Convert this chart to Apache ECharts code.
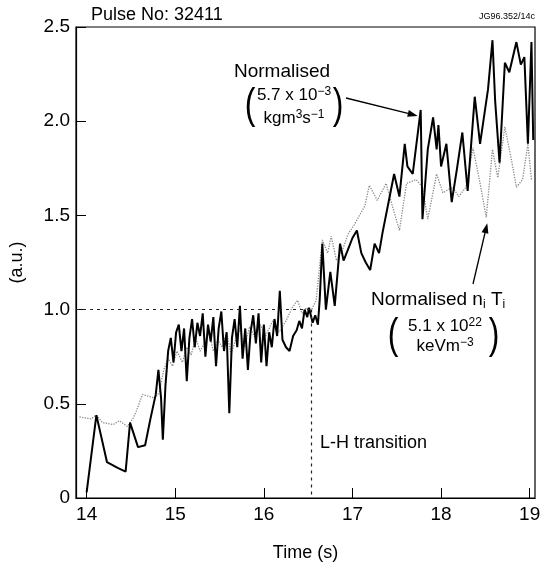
<!DOCTYPE html>
<html>
<head>
<meta charset="utf-8">
<script src="https://cdn.jsdelivr.net/npm/echarts@6/dist/echarts.min.js"></script>
<style>html,body{margin:0;padding:0;background:#fff;}#c{width:545px;height:568px;}</style>
</head>
<body>
<div id="c"></div>
<script>
// ---- data ----
const solidTime = [14.00,14.11,14.23,14.35,14.44,14.49,14.58,14.66,14.72,14.78,14.81,14.84,14.86,14.89,14.92,14.95,14.98,15.01,15.04,15.07,15.10,15.13,15.16,15.19,15.22,15.25,15.28,15.31,15.34,15.37,15.40,15.43,15.46,15.49,15.52,15.55,15.58,15.61,15.64,15.67,15.70,15.73,15.76,15.79,15.82,15.85,15.88,15.91,15.94,15.97,16.00,16.03,16.06,16.09,16.12,16.15,16.18,16.21,16.25,16.29,16.33,16.37,16.40,16.43,16.46,16.49,16.51,16.55,16.58,16.61,16.63,16.66,16.70,16.75,16.80,16.86,16.90,16.95,17.00,17.05,17.10,17.15,17.20,17.25,17.30,17.34,17.42,17.47,17.53,17.59,17.62,17.68,17.77,17.79,17.85,17.91,17.95,17.97,18.00,18.06,18.12,18.18,18.24,18.30,18.38,18.44,18.53,18.58,18.61,18.66,18.72,18.77,18.85,18.90,18.94,18.98,19.02,19.04];
const solidValue = [0.03,0.44,0.19,0.16,0.14,0.40,0.27,0.28,0.42,0.55,0.68,0.53,0.31,0.60,0.78,0.85,0.72,0.88,0.92,0.78,0.90,0.62,0.85,0.95,0.80,0.93,0.86,0.98,0.75,0.92,0.83,0.96,0.70,0.90,0.99,0.78,0.88,0.45,0.85,0.95,0.80,1.02,0.74,0.90,0.68,0.88,0.97,0.82,0.98,0.72,0.92,0.70,0.88,0.80,0.95,0.86,1.10,0.84,0.80,0.78,0.86,0.89,0.94,0.90,1.00,0.96,1.01,0.93,0.97,0.92,1.05,1.35,1.00,1.20,1.02,1.35,1.26,1.32,1.38,1.42,1.30,1.25,1.21,1.35,1.30,1.41,1.60,1.72,1.60,1.88,1.76,1.72,2.06,1.48,1.85,2.02,1.85,1.98,1.76,1.88,1.57,1.75,1.94,1.63,2.13,1.88,2.17,2.43,2.11,1.78,2.31,2.26,2.42,2.30,2.34,1.88,2.42,1.90];
const dottedTime = [13.92,14.05,14.11,14.18,14.30,14.37,14.46,14.52,14.56,14.63,14.70,14.77,14.82,14.87,14.92,14.97,15.02,15.08,15.13,15.18,15.23,15.28,15.33,15.38,15.43,15.48,15.53,15.58,15.63,15.68,15.73,15.78,15.84,15.90,15.96,16.02,16.10,16.17,16.25,16.32,16.38,16.43,16.48,16.53,16.59,16.66,16.72,16.76,16.82,16.89,16.95,17.02,17.08,17.14,17.19,17.28,17.38,17.45,17.53,17.61,17.72,17.79,17.85,17.95,18.02,18.13,18.20,18.28,18.36,18.44,18.51,18.58,18.64,18.72,18.80,18.85,18.92,18.98,19.02];
const dottedValue = [0.43,0.42,0.44,0.40,0.39,0.41,0.38,0.42,0.46,0.55,0.54,0.53,0.56,0.68,0.74,0.70,0.78,0.72,0.80,0.76,0.85,0.78,0.82,0.88,0.78,0.84,0.80,0.88,0.76,0.84,0.90,0.80,0.91,0.85,0.92,0.86,0.94,0.88,0.94,1.01,1.05,0.98,1.01,0.99,1.05,1.37,1.30,1.39,1.26,1.32,1.40,1.45,1.50,1.55,1.66,1.58,1.67,1.55,1.42,1.67,1.69,1.65,1.48,1.72,1.62,1.65,1.60,1.65,1.86,1.67,1.49,1.85,1.70,1.97,1.78,1.65,1.69,1.88,1.69];
const xTickValues = [14, 15, 16, 17, 18, 19];
const transitionTime = 16.54;
const refLevel = 1.0;
const xMin = 13.88, xMax = 19.06;

const zip = (xs, ys) => xs.map((x, i) => [x, ys[i]]);
const FONT = 'Liberation Sans';

const chart = echarts.init(document.getElementById('c'));
chart.setOption({
  animation: false,
  backgroundColor: '#fff',
  textStyle: { fontFamily: FONT, color: '#000' },
  title: {
    text: 'Pulse No: 32411', left: 86, top: 1,
    textStyle: { fontFamily: FONT, fontSize: 18, fontWeight: 'normal', color: '#000' }
  },
  grid: { left: 76, right: 10, top: 27, bottom: 70, show: true, borderColor: '#000', borderWidth: 1.2, backgroundColor: 'transparent' },
  xAxis: {
    type: 'value', min: xMin, max: xMax,
    name: 'Time (s)', nameLocation: 'middle', nameGap: 46,
    nameTextStyle: { fontFamily: FONT, fontSize: 18, color: '#000' },
    axisLine: { lineStyle: { color: '#000', width: 1.2 } },
    axisTick: { inside: true, length: 10, customValues: xTickValues, lineStyle: { color: '#000' } },
    axisLabel: { customValues: xTickValues, fontFamily: FONT, fontSize: 19, color: '#000', margin: 7 },
    splitLine: { show: false }
  },
  yAxis: {
    type: 'value', min: 0, max: 2.5, interval: 0.5,
    name: '(a.u.)', nameLocation: 'middle', nameGap: 50, nameRotate: 90,
    nameTextStyle: { fontFamily: FONT, fontSize: 18, color: '#000' },
    axisLine: { show: true, lineStyle: { color: '#000', width: 1.2 } },
    axisTick: { inside: true, length: 10, lineStyle: { color: '#000' } },
    axisLabel: { fontFamily: FONT, fontSize: 19, color: '#000', margin: 6,
      formatter: v => (v === 0 ? '0' : v.toFixed(1)) },
    splitLine: { show: false }
  },
  series: [
    {
      name: 'ni Ti', type: 'line', showSymbol: false, silent: true,
      data: zip(dottedTime, dottedValue),
      lineStyle: { color: '#8a8a8a', width: 1.3, type: 'dotted' }
    },
    {
      name: 'momentum', type: 'line', showSymbol: false, silent: true,
      data: zip(solidTime, solidValue),
      lineStyle: { color: '#000', width: 2 },
      markLine: {
        silent: true, symbol: 'none',
        label: { show: false },
        lineStyle: { color: '#222', width: 1.2, type: [3, 4] },
        data: [
          [{ coord: [xMin, refLevel] }, { coord: [transitionTime, refLevel] }],
          [{ coord: [transitionTime, refLevel] }, { coord: [transitionTime, 0] }]
        ]
      }
    }
  ]
});

function arrow(x1, y1, x2, y2) {
  const a = Math.atan2(y2 - y1, x2 - x1), L = 10, W = 3.5;
  const bx = x2 - L * Math.cos(a), by = y2 - L * Math.sin(a);
  const px = -Math.sin(a) * W, py = Math.cos(a) * W;
  return [
    { type: 'line', shape: { x1, y1, x2: bx, y2: by }, style: { stroke: '#000', lineWidth: 1.3 } },
    { type: 'polygon', shape: { points: [[x2, y2], [bx + px, by + py], [bx - px, by - py]] }, style: { fill: '#000' } }
  ];
}
const t1 = chart.convertToPixel({ gridIndex: 0 }, [17.77, 2.06]);
const t2 = chart.convertToPixel({ gridIndex: 0 }, [18.51, 1.49]);
const txt = (x, y, text, size, align) => ({
  type: 'text', x, y,
  style: { text, fontFamily: FONT, fontSize: size, fill: '#000', align: align || 'left', verticalAlign: 'middle' }
});
const rtxt = (x, y, text, size, rich, align) => ({
  type: 'text', x, y,
  style: { text, rich, fontFamily: FONT, fontSize: size, fill: '#000', align: align || 'center', verticalAlign: 'middle' }
});
const paren = (x, y, ch) => ({
  type: 'text', x, y, scaleY: 1.35,
  style: { text: ch, fontFamily: FONT, fontSize: 32, fill: '#000', align: 'center', verticalAlign: 'middle' }
});
const sup = { s: { fontSize: 12, verticalAlign: 'top', padding: [0, 0, 7, 0] } };
const sub = { b: { fontSize: 12, padding: [9, 0, 0, 0] } };
chart.setOption({
  graphic: [
    txt(535, 17, 'JG96.352/14c', 9, 'right'),
    txt(282, 72, 'Normalised', 19, 'center'),
    paren(250, 106, '('),
    paren(338, 106, ')'),
    rtxt(294, 95, '5.7 x 10{s|−3}', 17, sup),
    rtxt(294, 118, 'kgm{s|3}s{s|−1}', 17, sup),
    ...arrow(346, 98, t1[0] - 3, t1[1] + 6),
    rtxt(371, 300, 'Normalised n{b|i} T{b|i}', 19, sub, 'left'),
    paren(393, 336, '('),
    paren(494, 336, ')'),
    rtxt(445, 326, '5.1 x 10{s|22}', 17, sup),
    rtxt(445, 346, 'keVm{s|−3}', 17, sup),
    ...arrow(473, 284, t2[0] + 1, t2[1] + 6),
    txt(320, 443, 'L-H transition', 18, 'left')
  ]
});
</script>
</body>
</html>
